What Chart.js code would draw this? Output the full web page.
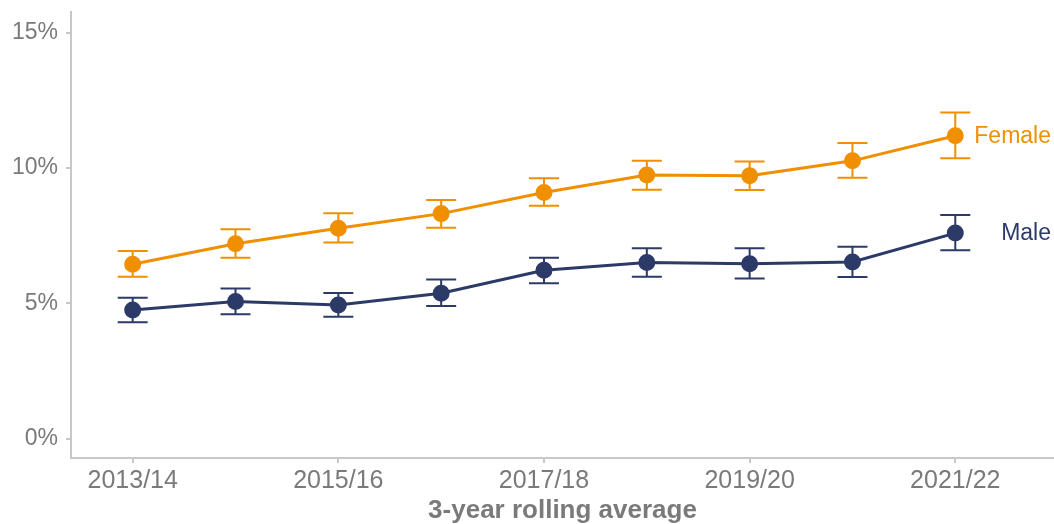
<!DOCTYPE html>
<html>
<head>
<meta charset="utf-8">
<script src="https://cdn.jsdelivr.net/npm/chart.js@4"></script>
<style>
  html, body { margin: 0; padding: 0; background: #fff; }
  #wrap { width: 1054px; height: 524px; }
</style>
</head>
<body>
<div id="wrap"><canvas id="chart" width="1054" height="524"></canvas></div>
<script>
// Data (percent)
const years = ["2013/14", "2014/15", "2015/16", "2016/17", "2017/18", "2018/19", "2019/20", "2020/21", "2021/22"];
const xTicks = [0, 2, 4, 6, 8];
const yTicks = [0, 5, 10, 15];

const female = [6.44, 7.20, 7.77, 8.31, 9.09, 9.74, 9.71, 10.26, 11.19];
const femaleLo = [5.98, 6.68, 7.24, 7.79, 8.60, 9.19, 9.18, 9.64, 10.36];
const femaleHi = [6.93, 7.73, 8.32, 8.81, 9.62, 10.26, 10.24, 10.92, 12.05];

const male = [4.75, 5.06, 4.93, 5.37, 6.22, 6.50, 6.46, 6.52, 7.59];
const maleLo = [4.30, 4.59, 4.50, 4.90, 5.74, 5.98, 5.91, 5.97, 6.96];
const maleHi = [5.20, 5.54, 5.38, 5.88, 6.68, 7.03, 7.03, 7.09, 8.26];

const ORANGE = "#f08f00";
const NAVY = "#2c3a68";
const GREY = "#7a7a7a";
const AXIS = "#c8c8c8";
const FONT = "'Liberation Sans', Arial, sans-serif";

// Error bars + end labels
const extras = {
  id: "extras",
  beforeDatasetsDraw(chart) {
    const { ctx, scales: { x, y } } = chart;
    const sets = [
      { lo: femaleLo, hi: femaleHi, color: ORANGE },
      { lo: maleLo, hi: maleHi, color: NAVY },
    ];
    ctx.save();
    ctx.lineWidth = 2;
    sets.forEach(s => {
      ctx.strokeStyle = s.color;
      s.lo.forEach((lo, i) => {
        const px = x.getPixelForValue(i);
        const y1 = y.getPixelForValue(lo);
        const y2 = y.getPixelForValue(s.hi[i]);
        ctx.beginPath();
        ctx.moveTo(px, y1); ctx.lineTo(px, y2);
        ctx.moveTo(px - 15, y1); ctx.lineTo(px + 15, y1);
        ctx.moveTo(px - 15, y2); ctx.lineTo(px + 15, y2);
        ctx.stroke();
      });
    });
    ctx.restore();
  },
  afterDatasetsDraw(chart) {
    const { ctx, scales: { y } } = chart;
    const last = years.length - 1;
    ctx.save();
    ctx.font = "23px " + FONT;
    ctx.textAlign = "right";
    ctx.textBaseline = "middle";
    ctx.fillStyle = ORANGE;
    ctx.fillText("Female", 1051, y.getPixelForValue(female[last]) + 1);
    ctx.fillStyle = NAVY;
    ctx.fillText("Male", 1051, y.getPixelForValue(male[last]) + 1);
    ctx.restore();
  }
};

new Chart(document.getElementById("chart"), {
  type: "line",
  data: {
    datasets: [
      {
        label: "Female",
        data: female.map((v, i) => ({ x: i, y: v })),
        borderColor: ORANGE,
        backgroundColor: ORANGE,
        borderWidth: 3,
        pointRadius: 7,
        pointHoverRadius: 7,
      },
      {
        label: "Male",
        data: male.map((v, i) => ({ x: i, y: v })),
        borderColor: NAVY,
        backgroundColor: NAVY,
        borderWidth: 3,
        pointRadius: 7,
        pointHoverRadius: 7,
      },
    ]
  },
  options: {
    responsive: false,
    animation: false,
    layout: { autoPadding: false, padding: { top: 12, right: 0, left: 0, bottom: 0 } },
    plugins: {
      legend: { display: false },
      tooltip: { enabled: false },
    },
    scales: {
      x: {
        type: "linear",
        min: -0.6,
        max: 8.96,
        afterBuildTicks: s => { s.ticks = xTicks.map(v => ({ value: v })); },
        afterFit: s => { s.height = 66; },
        ticks: {
          callback: v => years[v],
          color: GREY,
          font: { family: FONT, size: 25 },
          padding: 3,
          maxRotation: 0,
        },
        grid: { drawOnChartArea: false, drawTicks: true, tickLength: 5, color: AXIS, lineWidth: 2 },
        border: { color: AXIS, width: 2 },
        title: {
          display: true,
          text: "3-year rolling average",
          color: GREY,
          font: { family: FONT, size: 26, weight: "bold", lineHeight: 1.0 },
          padding: { top: 0, bottom: 0 },
        },
      },
      y: {
        min: -0.72,
        max: 15.76,
        afterBuildTicks: s => { s.ticks = yTicks.map(v => ({ value: v })); },
        afterFit: s => { s.width = 71; s.paddingTop = 0; s.paddingBottom = 0; },
        ticks: {
          callback: v => v + "%",
          color: GREY,
          font: { family: FONT, size: 23 },
          padding: 8,
        },
        grid: { drawOnChartArea: false, drawTicks: true, tickLength: 5, color: AXIS, lineWidth: 2 },
        border: { color: AXIS, width: 2 },
      }
    }
  },
  plugins: [extras]
});
</script>
</body>
</html>
